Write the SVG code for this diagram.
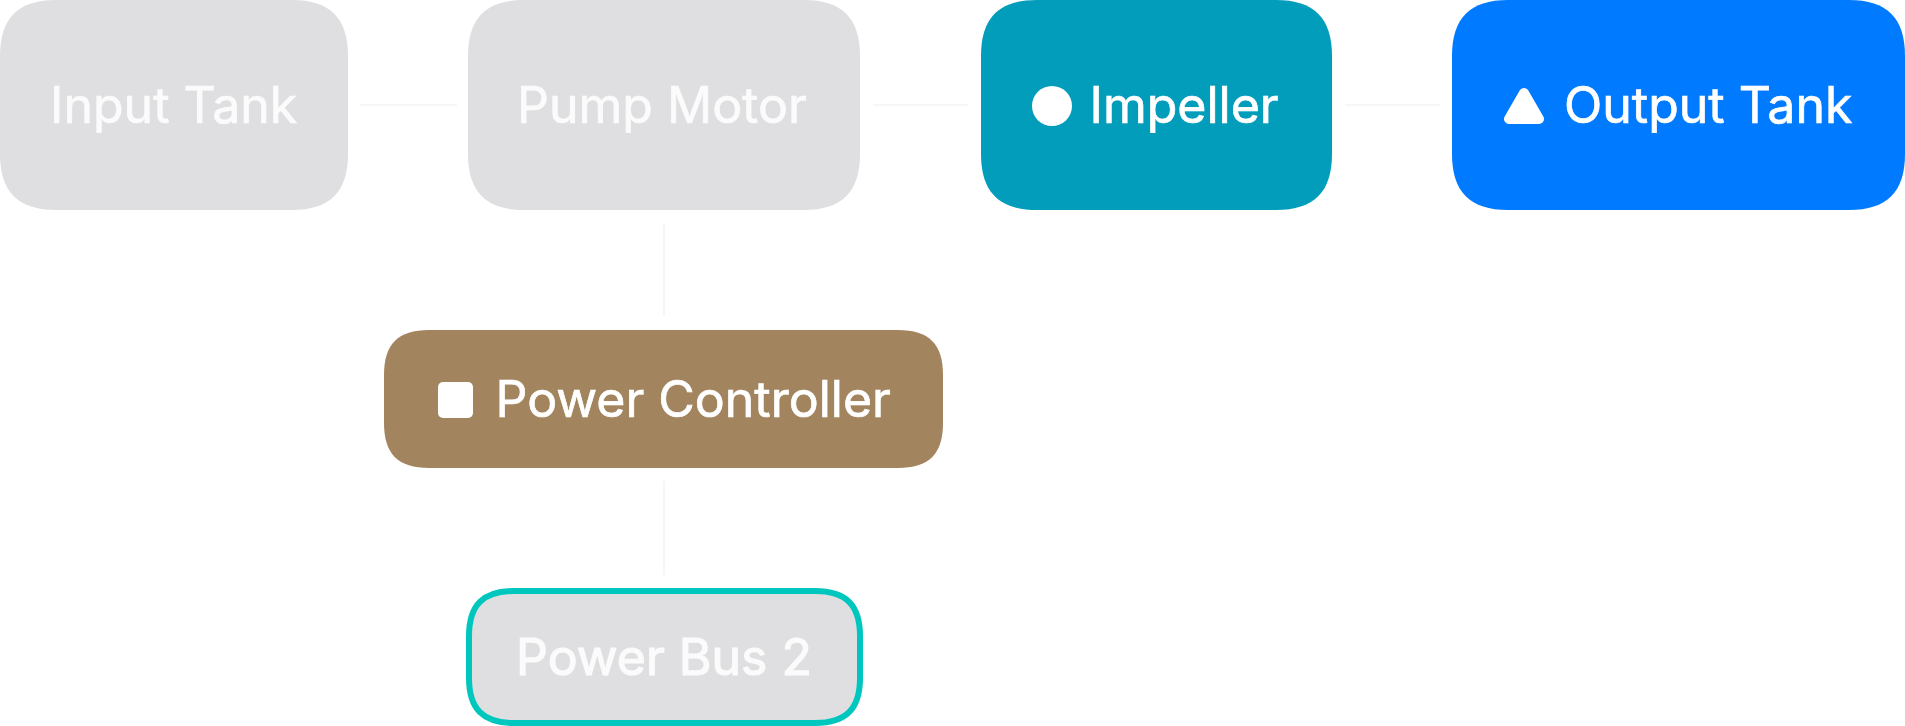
<svg xmlns="http://www.w3.org/2000/svg" width="1905" height="726" viewBox="0 0 1905 726">
<style>
text{font-family:Inter,"Noto Sans","Liberation Sans",sans-serif;font-size:50px;fill:#fff;stroke:#fff;stroke-width:.7px}
.c{stroke:#f6f6f6;stroke-width:2;fill:none}
.g{fill:#dfdfe2}
.m{fill:#fbfbfb;stroke:#fbfbfb}
</style>
<rect width="1905" height="726" fill="#fff"/>
<g id="connectors">
<path class="c" d="M360 105H457"/>
<path class="c" d="M873 105H968"/>
<path class="c" d="M1345 105H1440"/>
<path class="c" d="M664 223V316"/>
<path class="c" d="M664 481V575"/>
</g>
<g id="input-tank">
<path class="g" d="M56 0H292C330 0 348 18 348 56V154C348 192 330 210 292 210H56C18 210 0 192 0 154V56C0 18 18 0 56 0Z"/>
<text class="m" x="50" y="123">Input Tank</text>
</g>
<g id="pump-motor">
<path class="g" d="M524 0H804C842 0 860 18 860 56V154C860 192 842 210 804 210H524C486 210 468 192 468 154V56C468 18 486 0 524 0Z"/>
<text class="m" x="517" y="123">Pump Motor</text>
</g>
<g id="impeller">
<path fill="#029dbb" d="M1037 0H1276C1314 0 1332 18 1332 56V154C1332 192 1314 210 1276 210H1037C999 210 981 192 981 154V56C981 18 999 0 1037 0Z"/>
<circle cx="1052" cy="106" r="20" fill="#fff"/>
<text x="1089.500" y="123">Impeller</text>
</g>
<g id="output-tank">
<path fill="#007aff" d="M1508 0H1849C1887 0 1905 18 1905 56V154C1905 192 1887 210 1849 210H1508C1470 210 1452 192 1452 154V56C1452 18 1470 0 1508 0Z"/>
<path fill="#fff" stroke="#fff" stroke-width="10" stroke-linejoin="round" d="M1524 93L1509 119H1539Z"/>
<text x="1564" y="123">Output Tank</text>
</g>
<g id="power-controller">
<path fill="#a2845e" d="M429 330H898C929 330 943 344 943 375V423C943 454 929 468 898 468H429C398 468 384 454 384 423V375C384 344 398 330 429 330Z"/>
<rect x="438" y="382" width="35" height="36" rx="5" fill="#fff"/>
<text x="495.500" y="417">Power Controller</text>
</g>
<g id="power-bus-2">
<path class="g" stroke="#00c7be" stroke-width="6" d="M514 591H815C846 591 860 605 860 636V678C860 709 846 723 815 723H514C483 723 469 709 469 678V636C469 605 483 591 514 591Z"/>
<text class="m" x="516" y="675" style="stroke-width:1.2px">Power Bus 2</text>
</g>
</svg>
